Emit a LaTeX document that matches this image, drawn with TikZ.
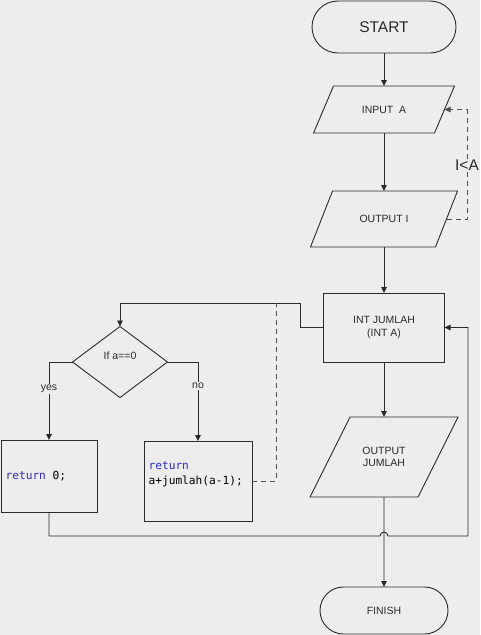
\documentclass[tikz,border=0pt]{standalone}
\usepackage{fontspec}
\setmainfont{Liberation Sans}
\newfontfamily\codefont{DejaVu Sans Mono}
\usetikzlibrary{arrows.meta,shapes.geometric,shapes.misc,calc}
\definecolor{bg}{HTML}{EDEDED}
\definecolor{ln}{HTML}{2A2A2A}
\definecolor{dsh}{HTML}{505050}
\definecolor{kw}{HTML}{2B2BB8}
\newcommand\drawpara[2]{%
  \draw[line] ($(#1.south west)+(-#2/2,0)$) -- ($(#1.north west)+(#2/2,0)$)
    -- ($(#1.north east)+(#2/2,0)$) -- ($(#1.south east)+(-#2/2,0)$) -- cycle;}
\begin{document}
\begin{tikzpicture}[x=1pt,y=-1pt,
  line/.style={draw=ln, line width=0.9pt},
  tip/.style={-{Triangle[length=6pt,width=5.5pt]}},
  arr/.style={line, tip},
  dline/.style={draw=dsh, line width=0.9pt, dash pattern=on 5pt off 4pt},
  txt/.style={font=\fontsize{10.5}{12.5}\selectfont, text=ln},
  big/.style={font=\fontsize{15.5}{18}\selectfont, text=ln},
  code/.style={font=\codefont\fontsize{11.2}{15}\selectfont, text=black, align=left},
  term/.style={rounded rectangle, line, inner sep=0pt, outer sep=0pt},
  box/.style={rectangle, line, inner sep=0pt, outer sep=0pt},
  pbody/.style={rectangle, inner sep=0pt, outer sep=0pt, align=center, txt},
  lab/.style={txt, fill=bg, inner sep=1pt}
]
\fill[bg] (0,0) rectangle (480,635);
\useasboundingbox (0,0) rectangle (480,635);

% nodes
\node[term, big, minimum width=144pt, minimum height=52pt] (start) at (384,27) {START};
\node[pbody, minimum width=121pt, minimum height=47pt] (inA) at (384,109.5) {INPUT\ \ A};
\drawpara{inA}{20}
\node[pbody, minimum width=125pt, minimum height=56pt] (outI) at (384,219) {OUTPUT I};
\drawpara{outI}{22}
\node[box, txt, align=center, minimum width=121pt, minimum height=69pt] (intJ) at (384,327.5) {INT JUMLAH\\(INT A)};
\node[pbody, minimum width=108pt, minimum height=80pt] (outJ) at (384,457) {OUTPUT\\JUMLAH};
\drawpara{outJ}{40}
\node[term, txt, minimum width=128pt, minimum height=47pt] (finish) at (384,610.5) {FINISH};

\node[diamond, line, minimum width=95pt, minimum height=71pt, inner sep=0pt, outer sep=0pt] (dia) at (120,362) {};
\node[txt] (diatxt) at (120,356) {If a==0};

\node[box, minimum width=96pt, minimum height=72pt] (ret0) at (49,476) {};
\node[code, anchor=west] (ret0txt) at (2,476) {\textcolor{kw}{return} 0;};
\node[box, minimum width=108pt, minimum height=80pt] (retA) at (198,481) {};
\node[code, anchor=west] (retAtxt) at (145,474.5) {\textcolor{kw}{return}\\a+jumlah(a-1);};

% connectors
\draw[arr] (start) -- (inA);
\draw[arr] (inA) -- (outI);
\draw[arr] (outI) -- (intJ);
\draw[arr] (intJ) -- (outJ);
\draw[arr] (outJ) -- (finish);

\draw[dline, tip] (outI.east) -- (467,219) -- (467,109.5) -- (inA.east);
\node[big, fill=bg, inner sep=1pt] (cond) at (467,165) {I<A};

\draw[arr] (intJ.west) -| (300,303) -| (dia.north);
\draw[arr] (dia.west) -| (ret0.north);
\draw[arr] (dia.east) -| (retA.north);
\node[lab] (yes) at (49,389) {yes};
\node[lab] (no) at (198,386) {no};

\draw[dline] (retA.east) -- (276,481) -- (276,303);

\draw[arr] (ret0.south) |- (380,536) arc[start angle=180, end angle=0, radius=4pt]
  -- (468,536) |- (intJ.east);
\end{tikzpicture}
\end{document}
